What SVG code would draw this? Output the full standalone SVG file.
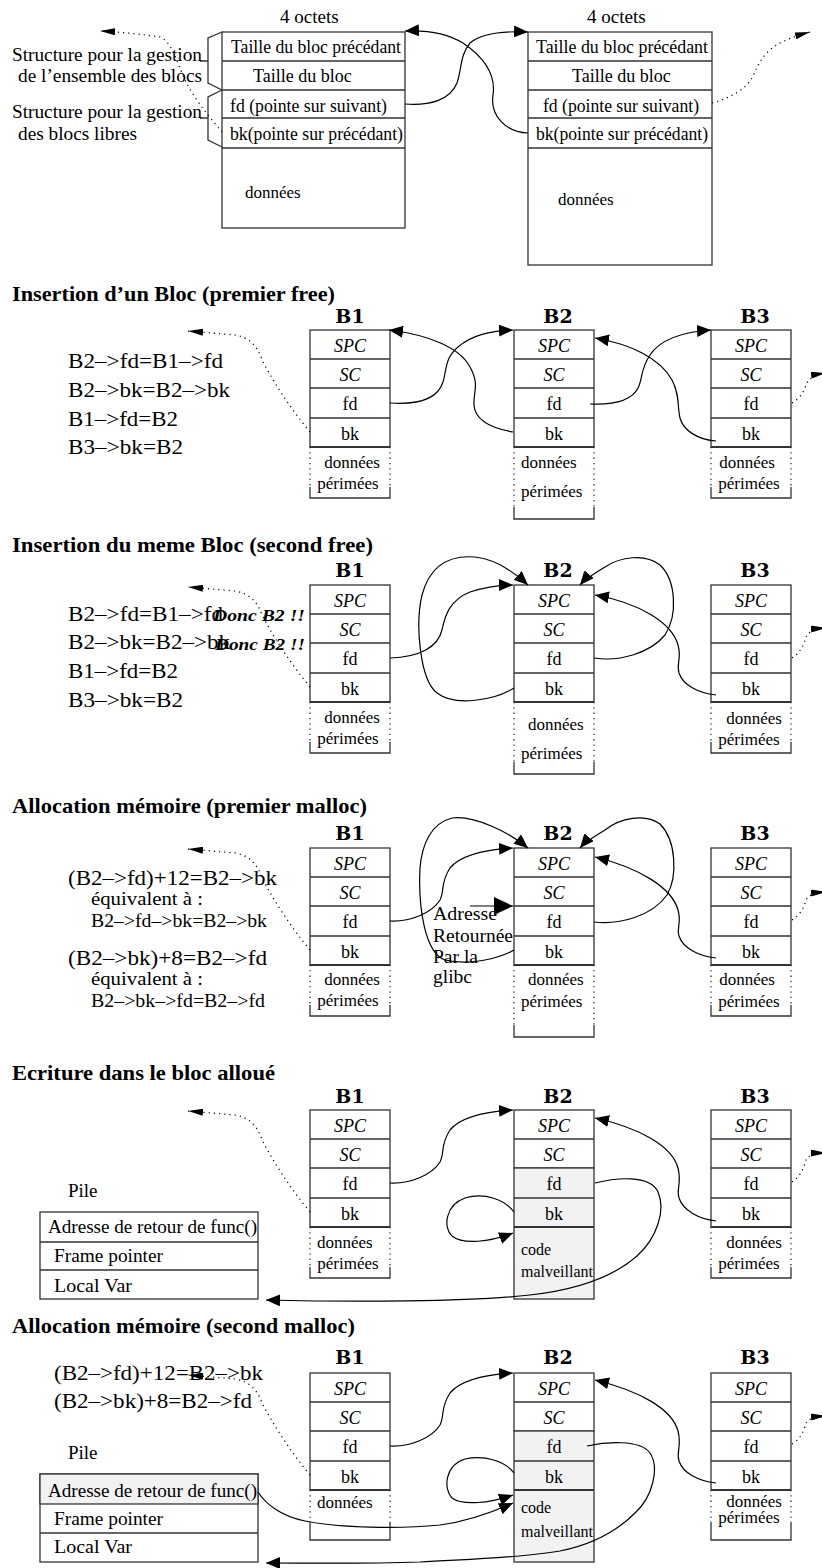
<svg xmlns="http://www.w3.org/2000/svg" width="822" height="1568" viewBox="0 0 822 1568">
<style>
  text{font-family:"Liberation Serif","Times New Roman",serif;fill:#000}
  .f18{font-size:18px}
  .f17{font-size:17px}
  .f16{font-size:16px}
  .f19{font-size:19px}
  .f21{font-size:21px}
  .it{font-style:italic}
  .mid{text-anchor:middle}
  .ttl{font-size:22px;font-weight:bold}
  .lbl{font-family:"DejaVu Serif",serif;font-size:19px;font-weight:bold}
  .don{font-size:17px;font-weight:bold;font-style:italic}
  .box{fill:#fff;stroke:#333;stroke-width:1.3}
  .gray{fill:#f2f2f2;stroke:#333;stroke-width:1.3}
  .ln{fill:none;stroke:#333;stroke-width:1.3}
  .thk{fill:none;stroke:#333;stroke-width:2.2}
  .ds{fill:none;stroke:#333;stroke-width:1.3;stroke-dasharray:1.3 4}
  .c{fill:none;stroke:#000;stroke-width:1.2}
  .d{fill:none;stroke:#000;stroke-width:1.2;stroke-dasharray:1.2 4}
</style>
<defs>
  <marker id="ah" viewBox="0 0 14 12" refX="14" refY="6" markerWidth="14" markerHeight="12" markerUnits="userSpaceOnUse" orient="auto"><path d="M0,0L14,6L0,12z"/></marker>
  <marker id="ahd" viewBox="0 0 15 7" refX="15" refY="3.5" markerWidth="15" markerHeight="7" markerUnits="userSpaceOnUse" orient="auto"><path d="M0,0L15,3.5L0,7z"/></marker>
  <marker id="ahb" viewBox="0 0 19 18" refX="19" refY="9" markerWidth="19" markerHeight="18" markerUnits="userSpaceOnUse" orient="auto"><path d="M0,0L19,9L0,18z"/></marker>
  <!-- header rows of a chunk: SPC / SC / fd / bk -->
  <g id="hdr">
    <rect class="box" width="80" height="117"/>
    <path class="ln" d="M0,29H80M0,58H80M0,88H80"/>
    <path class="thk" d="M0,117H80"/>
    <text class="f18 it mid" x="40" y="22">SPC</text>
    <text class="f18 it mid" x="40" y="51">SC</text>
    <text class="f18 mid" x="40" y="80">fd</text>
    <text class="f18 mid" x="40" y="110">bk</text>
  </g>
  <!-- allocated chunk: fd, bk and data overwritten (shaded) -->
  <g id="hdrg">
    <rect class="box" width="80" height="58"/>
    <rect class="gray" y="58" width="80" height="131"/>
    <path class="ln" d="M0,29H80M0,88H80"/>
    <path class="thk" d="M0,117H80"/>
    <text class="f18 it mid" x="40" y="22">SPC</text>
    <text class="f18 it mid" x="40" y="51">SC</text>
    <text class="f18 mid" x="40" y="80">fd</text>
    <text class="f18 mid" x="40" y="110">bk</text>
  </g>
  <!-- stale data area, short and long -->
  <g id="dshort">
    <path class="ds" d="M0,117V157M80,117V157"/>
    <path class="ln" d="M0,157V168H80V157"/>
  </g>
  <g id="dlong">
    <path class="ds" d="M0,117V177M80,117V177"/>
    <path class="ln" d="M0,177V189H80V177"/>
  </g>
</defs>

<!-- ===== chunk layout ===== -->
<g id="layout">
  <text class="f19" x="280" y="23">4 octets</text>
  <text class="f19" x="587" y="23">4 octets</text>
  <g id="chunk-a">
    <rect class="box" x="222" y="32" width="183" height="196"/>
    <path class="ln" d="M222,61H405M222,90H405M222,118H405"/>
    <path class="ln" d="M222,148H405" style="stroke-width:1.7"/>
    <text class="f18" x="231" y="53" textLength="170" lengthAdjust="spacingAndGlyphs">Taille du bloc précédant</text>
    <text class="f18" x="253" y="82">Taille du bloc</text>
    <text class="f18" x="230" y="112" textLength="157" lengthAdjust="spacingAndGlyphs">fd (pointe sur suivant)</text>
    <text class="f18" x="230" y="140" textLength="173" lengthAdjust="spacingAndGlyphs">bk(pointe sur précédant)</text>
    <text class="f17" x="245" y="198">données</text>
  </g>
  <g id="chunk-b">
    <rect class="box" x="528" y="32" width="184" height="233"/>
    <path class="ln" d="M528,61H712M528,90H712M528,118H712"/>
    <path class="ln" d="M528,148H712" style="stroke-width:1.7"/>
    <text class="f18" x="536" y="53" textLength="172" lengthAdjust="spacingAndGlyphs">Taille du bloc précédant</text>
    <text class="f18" x="572" y="82">Taille du bloc</text>
    <text class="f18" x="543" y="112" textLength="156" lengthAdjust="spacingAndGlyphs">fd (pointe sur suivant)</text>
    <text class="f18" x="536" y="140" textLength="172" lengthAdjust="spacingAndGlyphs">bk(pointe sur précédant)</text>
    <text class="f17" x="558" y="205">données</text>
  </g>
  <g id="annot">
    <path class="ln" d="M222,32L208,38V83L222,90M222,90L208,97V140L222,147M200,61H208M200,118H208"/>
    <text class="f19" x="12" y="61" textLength="190" lengthAdjust="spacingAndGlyphs">Structure pour la gestion</text>
    <text class="f19" x="18" y="82" textLength="184" lengthAdjust="spacingAndGlyphs">de l’ensemble des blocs</text>
    <text class="f19" x="12" y="118" textLength="190" lengthAdjust="spacingAndGlyphs">Structure pour la gestion</text>
    <text class="f19" x="18" y="140" textLength="119" lengthAdjust="spacingAndGlyphs">des blocs libres</text>
  </g>
</g>

<!-- ===== section titles and side notes ===== -->
<g id="titles">
  <text class="ttl" x="12" y="301" textLength="323" lengthAdjust="spacingAndGlyphs">Insertion d’un Bloc (premier free)</text>
  <text class="ttl" x="12" y="552" textLength="361" lengthAdjust="spacingAndGlyphs">Insertion du meme Bloc (second free)</text>
  <text class="ttl" x="12" y="813" textLength="355" lengthAdjust="spacingAndGlyphs">Allocation mémoire (premier malloc)</text>
  <text class="ttl" x="12" y="1080" textLength="263" lengthAdjust="spacingAndGlyphs">Ecriture dans le bloc alloué</text>
  <text class="ttl" x="12" y="1333" textLength="343" lengthAdjust="spacingAndGlyphs">Allocation mémoire (second malloc)</text>
</g>

<g id="notes">
  <text class="f21" x="68" y="368" textLength="155" lengthAdjust="spacingAndGlyphs">B2–&gt;fd=B1–&gt;fd</text>
  <text class="f21" x="68" y="397" textLength="162" lengthAdjust="spacingAndGlyphs">B2–&gt;bk=B2–&gt;bk</text>
  <text class="f21" x="68" y="426" textLength="110" lengthAdjust="spacingAndGlyphs">B1–&gt;fd=B2</text>
  <text class="f21" x="68" y="454" textLength="115" lengthAdjust="spacingAndGlyphs">B3–&gt;bk=B2</text>

  <text class="f21" x="68" y="621" textLength="155" lengthAdjust="spacingAndGlyphs">B2–&gt;fd=B1–&gt;fd</text>
  <text class="f21" x="68" y="649" textLength="162" lengthAdjust="spacingAndGlyphs">B2–&gt;bk=B2–&gt;bk</text>
  <text class="f21" x="68" y="678" textLength="110" lengthAdjust="spacingAndGlyphs">B1–&gt;fd=B2</text>
  <text class="f21" x="68" y="707" textLength="115" lengthAdjust="spacingAndGlyphs">B3–&gt;bk=B2</text>
  <text class="don" x="213" y="621" textLength="92" lengthAdjust="spacingAndGlyphs">Donc B2 !!</text>
  <text class="don" x="215" y="650" textLength="90" lengthAdjust="spacingAndGlyphs">Donc B2 !!</text>

  <text class="f21" x="68" y="885" textLength="209" lengthAdjust="spacingAndGlyphs">(B2–&gt;fd)+12=B2–&gt;bk</text>
  <text class="f18" x="91" y="905" textLength="112" lengthAdjust="spacingAndGlyphs">équivalent à :</text>
  <text class="f18" x="91" y="927" textLength="176" lengthAdjust="spacingAndGlyphs">B2–&gt;fd–&gt;bk=B2–&gt;bk</text>
  <text class="f21" x="68" y="965" textLength="199" lengthAdjust="spacingAndGlyphs">(B2–&gt;bk)+8=B2–&gt;fd</text>
  <text class="f18" x="91" y="985" textLength="112" lengthAdjust="spacingAndGlyphs">équivalent à :</text>
  <text class="f18" x="91" y="1007" textLength="174" lengthAdjust="spacingAndGlyphs">B2–&gt;bk–&gt;fd=B2–&gt;fd</text>
  <text class="f19" x="433" y="920" textLength="64" lengthAdjust="spacingAndGlyphs">Adresse</text>
  <text class="f19" x="433" y="942" textLength="80" lengthAdjust="spacingAndGlyphs">Retournée</text>
  <text class="f19" x="433" y="963" textLength="45" lengthAdjust="spacingAndGlyphs">Par la</text>
  <text class="f19" x="433" y="983" textLength="39" lengthAdjust="spacingAndGlyphs">glibc</text>

  <text class="f21" x="54" y="1380" textLength="209" lengthAdjust="spacingAndGlyphs">(B2–&gt;fd)+12=B2–&gt;bk</text>
  <text class="f21" x="54" y="1408" textLength="198" lengthAdjust="spacingAndGlyphs">(B2–&gt;bk)+8=B2–&gt;fd</text>
</g>

<!-- ===== stack frames ===== -->
<g id="stack-1">
  <text class="f19" x="68" y="1197">Pile</text>
  <rect class="box" x="40" y="1212" width="218" height="87"/>
  <path class="ln" d="M40,1242H258M40,1270H258"/>
  <text class="f19" x="48" y="1233" textLength="209" lengthAdjust="spacingAndGlyphs">Adresse de retour de func()</text>
  <text class="f19" x="54" y="1262" textLength="109" lengthAdjust="spacingAndGlyphs">Frame pointer</text>
  <text class="f19" x="54" y="1292" textLength="78" lengthAdjust="spacingAndGlyphs">Local Var</text>
</g>
<g id="stack-2">
  <text class="f19" x="68" y="1459">Pile</text>
  <rect class="box" x="40" y="1474" width="218" height="88"/>
  <rect class="gray" x="40" y="1474" width="218" height="30"/>
  <path class="ln" d="M40,1533H258"/>
  <text class="f19" x="48" y="1497" textLength="209" lengthAdjust="spacingAndGlyphs">Adresse de retour de func()</text>
  <text class="f19" x="54" y="1525" textLength="109" lengthAdjust="spacingAndGlyphs">Frame pointer</text>
  <text class="f19" x="54" y="1553" textLength="78" lengthAdjust="spacingAndGlyphs">Local Var</text>
</g>

<!-- ===== chunks, one row per step ===== -->
<g id="s2-b1" transform="translate(310,330)">
  <text class="lbl mid" x="40" y="-7">B1</text>
  <use href="#hdr"/><use href="#dshort"/>
  <text class="f17 mid" x="42" y="138">données</text>
  <text class="f17 mid" x="38" y="159">périmées</text>
</g>
<g id="s2-b2" transform="translate(514,330)">
  <text class="lbl mid" x="44" y="-7">B2</text>
  <use href="#hdr"/><use href="#dlong"/>
  <text class="f17" x="7" y="138">données</text>
  <text class="f17" x="7" y="167">périmées</text>
</g>
<g id="s2-b3" transform="translate(711,330)">
  <text class="lbl mid" x="44" y="-7">B3</text>
  <use href="#hdr"/><use href="#dshort"/>
  <text class="f17 mid" x="36" y="138">données</text>
  <text class="f17 mid" x="38" y="159">périmées</text>
</g>

<g id="s3-b1" transform="translate(310,585)">
  <text class="lbl mid" x="40" y="-8">B1</text>
  <use href="#hdr"/><use href="#dshort"/>
  <text class="f17 mid" x="42" y="138">données</text>
  <text class="f17 mid" x="38" y="159">périmées</text>
</g>
<g id="s3-b2" transform="translate(514,585)">
  <text class="lbl mid" x="44" y="-8">B2</text>
  <use href="#hdr"/><use href="#dlong"/>
  <text class="f17" x="14" y="145">données</text>
  <text class="f17" x="7" y="174">périmées</text>
</g>
<g id="s3-b3" transform="translate(711,585)">
  <text class="lbl mid" x="44" y="-8">B3</text>
  <use href="#hdr"/><use href="#dshort"/>
  <text class="f17 mid" x="43" y="139">données</text>
  <text class="f17 mid" x="38" y="160">périmées</text>
</g>

<g id="s4-b1" transform="translate(310,848)">
  <text class="lbl mid" x="40" y="-8">B1</text>
  <use href="#hdr"/><use href="#dshort"/>
  <text class="f17 mid" x="42" y="137">données</text>
  <text class="f17 mid" x="38" y="158">périmées</text>
</g>
<g id="s4-b2" transform="translate(514,848)">
  <text class="lbl mid" x="44" y="-8">B2</text>
  <use href="#hdr"/><use href="#dlong"/>
  <text class="f17" x="14" y="137">données</text>
  <text class="f17" x="7" y="159">périmées</text>
</g>
<g id="s4-b3" transform="translate(711,848)">
  <text class="lbl mid" x="44" y="-8">B3</text>
  <use href="#hdr"/><use href="#dshort"/>
  <text class="f17 mid" x="36" y="137">données</text>
  <text class="f17 mid" x="38" y="159">périmées</text>
</g>

<g id="s5-b1" transform="translate(310,1110)">
  <text class="lbl mid" x="40" y="-7">B1</text>
  <use href="#hdr"/><use href="#dshort"/>
  <text class="f17" x="7" y="138">données</text>
  <text class="f17 mid" x="38" y="159">périmées</text>
</g>
<g id="s5-b2" transform="translate(514,1110)">
  <text class="lbl mid" x="44" y="-7">B2</text>
  <use href="#hdrg"/>
  <text class="f16" x="7" y="145">code</text>
  <text class="f16" x="7" y="167">malveillant</text>
</g>
<g id="s5-b3" transform="translate(711,1110)">
  <text class="lbl mid" x="44" y="-7">B3</text>
  <use href="#hdr"/><use href="#dshort"/>
  <text class="f17 mid" x="43" y="138">données</text>
  <text class="f17 mid" x="38" y="159">périmées</text>
</g>

<g id="s6-b1" transform="translate(310,1373)">
  <text class="lbl mid" x="40" y="-9">B1</text>
  <use href="#hdr"/>
  <path class="ds" d="M0,117V150M80,117V150"/>
  <path class="ln" d="M0,150V167H80V150"/>
  <text class="f17" x="7" y="135">données</text>
</g>
<g id="s6-b2" transform="translate(514,1373)">
  <text class="lbl mid" x="44" y="-9">B2</text>
  <use href="#hdrg"/>
  <text class="f16" x="7" y="140">code</text>
  <text class="f16" x="7" y="164">malveillant</text>
</g>
<g id="s6-b3" transform="translate(711,1373)">
  <text class="lbl mid" x="44" y="-9">B3</text>
  <use href="#hdr"/>
  <path class="ds" d="M0,117V150M80,117V150"/>
  <path class="ln" d="M0,150V167H80V150"/>
  <text class="f17 mid" x="43" y="134">données</text>
  <text class="f17 mid" x="38" y="150">périmées</text>
</g>

<!-- ===== pointers ===== -->
<g id="connectors">
  <g id="c-layout">
    <path class="d" marker-end="url(#ahd)" d="M222,132C210,118 195,100 185,80C176,60 172,42 160,37C140,34 120,32 100,31"/>
    <path class="c" marker-end="url(#ah)" d="M528,133C505,132 490,115 493,95C496,75 485,58 463,43C445,32 425,30 405,31"/>
    <path class="c" marker-end="url(#ah)" d="M405,104C430,106 450,100 457,83C462,68 460,55 470,43C482,33 505,31 528,32"/>
    <path class="d" marker-end="url(#ahd)" d="M712,103C730,98 745,90 752,78C758,65 762,55 775,46C785,40 795,36 810,32"/>
  </g>

  <g id="c-s2" transform="translate(0,330)">
    <path class="d" marker-end="url(#ahd)" d="M310,102Q282,68 262,30Q255,8 235,5L188,1"/>
    <path class="c" marker-end="url(#ah)" d="M390,73C420,75 438,68 443,52C447,38 445,28 458,17C472,5 490,1 513,0"/>
    <path class="c" marker-end="url(#ah)" d="M513,102C490,98 475,90 474,75C473,62 480,55 470,37C460,18 430,5 389,0"/>
    <path class="c" marker-end="url(#ah)" d="M590,74C615,75 632,70 638,58C643,48 640,40 650,25C660,10 680,2 711,0"/>
    <path class="c" marker-end="url(#ah)" d="M716,111C698,110 683,100 680,88C677,75 680,65 672,50C660,28 630,14 595,8"/>
    <path class="d" marker-end="url(#ahd)" d="M792,73C800,68 804,62 806,55C808,50 812,45 826,43"/>
  </g>

  <g id="c-s3" transform="translate(0,585)">
    <path class="d" marker-end="url(#ahd)" d="M310,102Q282,68 262,30Q255,9 235,6L188,2"/>
    <path class="c" marker-end="url(#ah)" d="M390,73C420,72 438,62 442,45C445,30 450,15 470,7C485,2 500,0 513,0"/>
    <path class="c" marker-end="url(#ah)" d="M514,103C495,115 455,122 437,108C420,95 415,40 422,10C430,-20 450,-30 475,-28C495,-26 515,-12 528,0"/>
    <path class="c" marker-end="url(#ah)" d="M594,73C620,77 650,68 665,50C678,30 676,-5 660,-20C645,-32 620,-28 605,-18C595,-12 585,-6 580,0"/>
    <path class="c" marker-end="url(#ah)" d="M716,110C698,108 683,100 679,88C676,78 682,74 678,60C672,38 640,18 595,10"/>
    <path class="d" marker-end="url(#ahd)" d="M792,73C800,68 804,60 806,52C808,48 812,44 826,43"/>
  </g>

  <g id="c-s4" transform="translate(0,848)">
    <path class="d" marker-end="url(#ahd)" d="M310,102Q282,68 262,30Q255,8 235,5L188,1"/>
    <path class="c" marker-end="url(#ah)" d="M390,73C410,74 432,65 440,52C445,42 440,35 450,20C460,8 480,2 513,0"/>
    <path class="c" marker-end="url(#ah)" d="M514,102C500,110 470,118 445,112C425,105 418,60 420,20C422,-5 432,-25 452,-30C475,-33 510,-15 528,0"/>
    <path class="c" marker-end="url(#ah)" d="M594,74C620,77 652,68 667,47C678,28 676,-8 660,-24C645,-35 620,-30 605,-18C595,-12 585,-6 580,0"/>
    <path class="c" marker-end="url(#ah)" d="M716,110C698,108 683,100 679,88C676,80 682,76 678,62C672,40 640,20 595,9"/>
    <path class="d" marker-end="url(#ahd)" d="M792,72C800,67 804,60 806,52C808,48 812,45 826,44"/>
    <path class="c" marker-end="url(#ahb)" d="M470,58H513"/>
  </g>

  <g id="c-s5" transform="translate(0,1110)">
    <path class="d" marker-end="url(#ahd)" d="M310,102Q282,68 262,30Q255,8 235,5L188,1"/>
    <path class="c" marker-end="url(#ah)" d="M390,73C410,74 432,65 440,52C445,42 440,35 450,20C460,8 480,2 513,0"/>
    <path class="c" marker-end="url(#ah)" d="M514,102C505,90 485,82 465,88C445,95 443,118 452,126C463,135 490,132 513,123"/>
    <path class="c" marker-end="url(#ah)" d="M595,73C615,68 650,64 658,82C666,100 657,128 637,146C612,168 575,180 530,185C470,192 350,192 266,190"/>
    <path class="c" marker-end="url(#ah)" d="M716,111C698,109 683,100 679,88C676,78 682,74 678,58C672,36 640,18 595,8"/>
    <path class="d" marker-end="url(#ahd)" d="M792,72C800,67 804,58 806,50C808,46 812,43 826,43"/>
  </g>

  <g id="c-s6" transform="translate(0,1373)">
    <path class="d" marker-end="url(#ahd)" d="M310,102Q282,68 262,30Q255,9 235,6L188,2"/>
    <path class="c" marker-end="url(#ah)" d="M390,73C410,74 432,65 440,52C445,42 440,35 450,20C460,8 480,2 513,0"/>
    <path class="c" marker-end="url(#ah)" d="M514,100C505,88 485,82 465,86C445,92 443,116 452,125C463,133 490,130 513,122"/>
    <path class="c" marker-end="url(#ah)" d="M258,119C265,130 280,143 305,148C340,155 400,156 440,152C470,148 495,138 513,130"/>
    <path class="c" marker-end="url(#ah)" d="M587,73C605,69 640,66 650,80C660,95 652,125 635,140C615,160 590,172 560,178C520,185 470,186 420,189C360,191 310,190 266,190"/>
    <path class="c" marker-end="url(#ah)" d="M716,110C698,108 683,100 679,88C676,78 682,74 678,58C672,36 640,18 595,7"/>
    <path class="d" marker-end="url(#ahd)" d="M792,71C800,67 804,58 806,50C808,47 812,44 826,43"/>
  </g>
</g>
</svg>
